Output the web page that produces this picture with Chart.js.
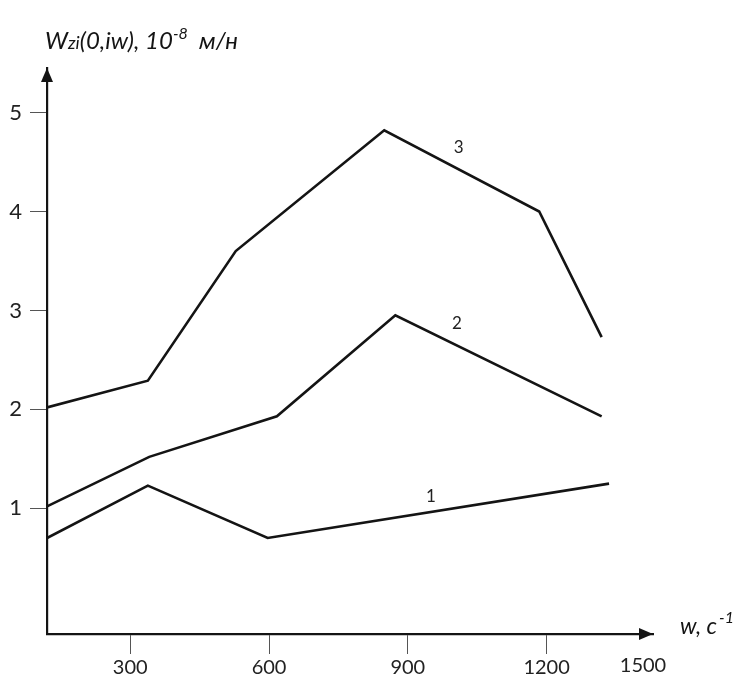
<!DOCTYPE html>
<html>
<head>
<meta charset="utf-8">
<script src="https://cdn.jsdelivr.net/npm/chart.js@4.4.1/dist/chart.umd.min.js"></script>
<style>
  html, body { margin: 0; padding: 0; background: #fff; }
  #wrap { width: 743px; height: 700px; }
</style>
</head>
<body>
<div id="wrap"><canvas id="grafico"></canvas></div>
<script>
// valores
const frec1  = [120, 338, 597, 1335];
const curva1 = [0.70, 1.23, 0.70, 1.25];

const frec2  = [120, 341, 617, 873, 1319];
const curva2 = [1.02, 1.52, 1.93, 2.95, 1.93];

const frec3  = [120, 338, 528, 849, 1184, 1319];
const curva3 = [2.02, 2.29, 3.60, 4.82, 4.00, 2.73];

const ticksX = [300, 600, 900, 1200];
const ticksY = [1, 2, 3, 4, 5];
const ultimoX = '1500';
const nombres = ['1', '2', '3'];
// donde va el numero de cada curva (en unidades de los ejes)
const etiquetasX = [950, 1006, 1010];
const etiquetasY = [1.12, 2.87, 4.65];

const negro = '#141414';
const fuente = 'Lato, "Open Sans", sans-serif';

const puntos = (xs, ys) => xs.map((v, i) => ({ x: v, y: ys[i] }));

const serie = (nombre, xs, ys) => ({
    label: nombre,
    data: puntos(xs, ys),
    borderColor: negro,
    borderWidth: 2.6,
    pointRadius: 0,
    fill: false,
    tension: 0
});

const anotaciones = {
    id: 'anotaciones',
    afterDraw(chart) {
        const ctx = chart.ctx;
        const x = chart.scales.x;
        const y = chart.scales.y;
        ctx.save();
        ctx.fillStyle = negro;

        // flechas de los ejes
        ctx.beginPath();
        ctx.moveTo(x.right, y.bottom);
        ctx.lineTo(x.right - 14, y.bottom - 6);
        ctx.lineTo(x.right - 14, y.bottom + 6);
        ctx.closePath();
        ctx.fill();

        ctx.beginPath();
        ctx.moveTo(x.left, y.top);
        ctx.lineTo(x.left - 6, y.top + 14);
        ctx.lineTo(x.left + 6, y.top + 14);
        ctx.closePath();
        ctx.fill();

        // ultimo valor del eje x, sin marca
        ctx.fillStyle = '#222';
        ctx.font = '20px ' + fuente;
        ctx.textAlign = 'center';
        ctx.textBaseline = 'middle';
        ctx.fillText(ultimoX, x.right - 10, 666);

        // numeros de las curvas
        ctx.font = '17px ' + fuente;
        nombres.forEach((n, i) => {
            ctx.fillText(n, x.getPixelForValue(etiquetasX[i]), y.getPixelForValue(etiquetasY[i]));
        });

        // titulo del eje y
        ctx.fillStyle = negro;
        ctx.textAlign = 'left';
        ctx.textBaseline = 'alphabetic';
        let cx = 45;
        const base = 49;
        const trozo = (texto, tam, sube) => {
            ctx.font = 'italic ' + tam + 'px ' + fuente;
            ctx.fillText(texto, cx, base - (sube || 0));
            cx += ctx.measureText(texto).width;
        };
        trozo('W', 24);
        trozo('zi', 18);
        trozo('(0,iw), 10', 24);
        trozo('-8', 16, 10);
        trozo('  м/н', 24);

        // titulo del eje x
        cx = 680;
        const base2 = 634;
        ctx.font = 'italic 23px ' + fuente;
        ctx.fillText('w, c', cx, base2);
        cx += ctx.measureText('w, c').width + 2;
        ctx.font = 'italic 16px ' + fuente;
        ctx.fillText('-1', cx, base2 - 11);

        ctx.restore();
    }
};

const grafico = new Chart(document.getElementById('grafico'), {
    type: 'line',
    data: {
        datasets: [
            serie(nombres[0], frec1, curva1),
            serie(nombres[1], frec2, curva2),
            serie(nombres[2], frec3, curva3)
        ]
    },
    options: {
        responsive: true,
        maintainAspectRatio: false,
        animation: false,
        layout: {
            padding: { top: 68, right: 90, left: 0, bottom: 0 }
        },
        plugins: {
            legend: { display: false },
            tooltip: { enabled: false },
            title: { display: false }
        },
        scales: {
            x: {
                type: 'linear',
                min: 120,
                max: 1430,
                afterBuildTicks: (eje) => { eje.ticks = ticksX.map(v => ({ value: v })); },
                afterFit: (eje) => { eje.height = 66; },
                border: { display: true, color: negro, width: 2.2 },
                grid: {
                    drawOnChartArea: false,
                    drawTicks: true,
                    tickLength: 20,
                    tickWidth: 1,
                    tickColor: '#555'
                },
                ticks: {
                    color: '#222',
                    padding: 2,
                    maxRotation: 0,
                    font: { family: fuente, size: 20 },
                    callback: (v) => String(v)
                }
            },
            y: {
                type: 'linear',
                min: -0.27,
                max: 5.45,
                afterBuildTicks: (eje) => { eje.ticks = ticksY.map(v => ({ value: v })); },
                afterFit: (eje) => { eje.width = 47; },
                border: { display: true, color: negro, width: 2.2 },
                grid: {
                    drawOnChartArea: false,
                    drawTicks: true,
                    tickLength: 17,
                    tickWidth: 1,
                    tickColor: '#555'
                },
                ticks: {
                    color: '#222',
                    padding: 8,
                    font: { family: fuente, size: 22 },
                    callback: (v) => String(v)
                }
            }
        }
    },
    plugins: [anotaciones]
});
</script>
</body>
</html>
